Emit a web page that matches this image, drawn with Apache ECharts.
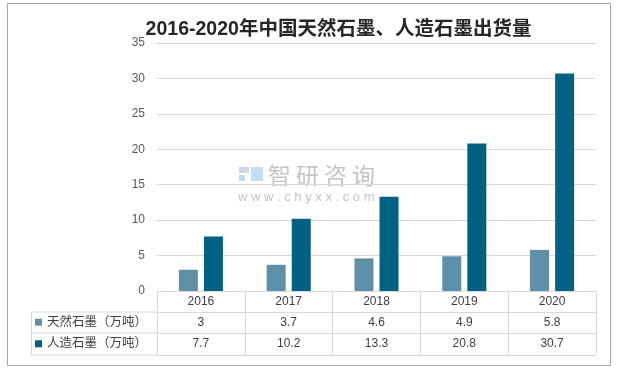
<!DOCTYPE html>
<html><head><meta charset="utf-8">
<script src="https://cdn.jsdelivr.net/npm/echarts@6/dist/echarts.min.js"></script>
<style>html,body{margin:0;padding:0;background:#fff}#c{width:617px;height:369px}</style>
</head><body><div id="c"></div>
<script>
var titleText = '2016-2020年中国天然石墨、人造石墨出货量';
var years = ['2016', '2017', '2018', '2019', '2020'];
var seriesNames = ['天然石墨（万吨）', '人造石墨（万吨）'];
var natural = [3, 3.7, 4.6, 4.9, 5.8];
var artificial = [7.7, 10.2, 13.3, 20.8, 30.7];
var yTicks = [0, 5, 10, 15, 20, 25, 30, 35];

var FONT = '"Liberation Sans","Noto Sans CJK SC",sans-serif';
var C1 = '#5E91A8', C2 = '#006282', LINE = '#d9d9d9', TXT = '#404040';

var chart = echarts.init(document.getElementById('c'), null, {renderer: 'canvas'});
var tableAxis = function (data, offset, showLabel) {
  return {
    type: 'category', data: data, position: 'bottom', offset: offset, gridIndex: 0,
    axisLine: {show: true, lineStyle: {color: LINE, width: 1}},
    axisTick: {show: false},
    axisLabel: {show: showLabel, interval: 0, margin: 5, color: TXT, fontSize: 12, fontFamily: FONT},
    splitLine: {show: false}
  };
};
var legendItem = function (name, top) {
  return {
    data: [name], left: 35, top: top, orient: 'vertical', padding: 0,
    icon: 'rect', itemWidth: 7, itemHeight: 7, itemGap: 5, selectedMode: false,
    textStyle: {color: TXT, fontSize: 12.5, fontFamily: FONT}
  };
};
var wmChars = '智研咨询'.split('').map(function (ch, i) {
  return {type: 'text', style: {text: ch, x: 268 + i * 28, y: 175.5, textVerticalAlign: 'middle', fontSize: 23, fill: '#c4c4c4', fontFamily: '"Noto Sans CJK SC",sans-serif'}};
});
chart.setOption({
  animation: false,
  title: {
    text: titleText, left: 338.5, top: 20, padding: 0, textAlign: 'center',
    textStyle: {fontSize: 19.5, fontWeight: 'bold', color: '#262626', fontFamily: FONT}
  },
  legend: [legendItem(seriesNames[0], 316), legendItem(seriesNames[1], 337.5)],
  grid: {left: 157, right: 21, top: 43, bottom: 78, containLabel: false},
  xAxis: [
    {
      type: 'category', data: years, position: 'bottom',
      axisLine: {show: true, lineStyle: {color: LINE, width: 1}},
      axisTick: {show: true, interval: 0, length: 64, lineStyle: {color: LINE, width: 1}},
      axisLabel: {interval: 0, margin: 5, color: TXT, fontSize: 12, fontFamily: FONT},
      splitLine: {show: false}
    },
    tableAxis(natural.map(String), 21, true),
    tableAxis(artificial.map(String), 42, true),
    tableAxis(years, 64, false)
  ],
  yAxis: {
    type: 'value', min: yTicks[0], max: yTicks[yTicks.length - 1], interval: 5,
    axisLine: {show: false}, axisTick: {show: false},
    axisLabel: {color: '#595959', fontSize: 12, margin: 12, fontFamily: FONT},
    splitLine: {lineStyle: {color: LINE, width: 1}}
  },
  series: [
    {name: seriesNames[0], type: 'bar', data: natural, xAxisIndex: 0, barWidth: 19, barGap: '32%', itemStyle: {color: C1}},
    {name: seriesNames[1], type: 'bar', data: artificial, xAxisIndex: 0, barWidth: 19, barGap: '32%', itemStyle: {color: C2}}
  ],
  graphic: [
    {type: 'rect', shape: {x: 7.5, y: 3.5, width: 603, height: 362}, style: {fill: 'none', stroke: '#a6a6a6', lineWidth: 1}, silent: true, z: -1},
    {type: 'line', shape: {x1: 31.5, y1: 312, x2: 157, y2: 312}, style: {stroke: LINE, lineWidth: 1}},
    {type: 'line', shape: {x1: 31.5, y1: 333, x2: 157, y2: 333}, style: {stroke: LINE, lineWidth: 1}},
    {type: 'line', shape: {x1: 31.5, y1: 355, x2: 157, y2: 355}, style: {stroke: LINE, lineWidth: 1}},
    {type: 'line', shape: {x1: 31.5, y1: 312, x2: 31.5, y2: 355}, style: {stroke: LINE, lineWidth: 1}},
    {type: 'group', z: -1, children: [
      {type: 'rect', shape: {x: 239, y: 167, width: 10, height: 6}, style: {fill: '#c9d6ea'}},
      {type: 'rect', shape: {x: 239, y: 175, width: 6, height: 6}, style: {fill: '#c9d6ea'}},
      {type: 'rect', shape: {x: 251, y: 167, width: 12, height: 14}, style: {fill: '#bfe0f2'}},
      {type: 'text', style: {text: 'w w w . c h y x x . c o m', x: 238, y: 197, textVerticalAlign: 'middle', fontSize: 13, fill: '#c4c4c4', fontFamily: FONT}}
    ].concat(wmChars)}
  ]
});
</script></body></html>
